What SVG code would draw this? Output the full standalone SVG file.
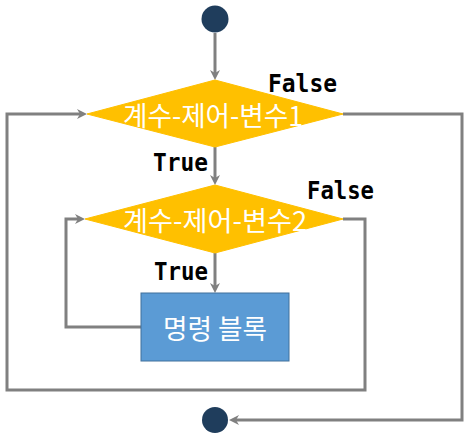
<svg xmlns="http://www.w3.org/2000/svg" width="470" height="442" viewBox="0 0 470 442">
<defs>
<style>
.conn{fill:none;stroke:#808080;stroke-width:3;stroke-linejoin:miter}
.dia{fill:#FFC000;stroke:#FFC000;stroke-width:1}
.dtext{font-family:"Noto Sans CJK KR","Noto Sans",sans-serif;font-size:27px;fill:#FFFFFF;text-anchor:middle}
.lbl{font-family:"DejaVu Sans Mono","Liberation Mono",monospace;font-weight:bold;font-size:24px;fill:#000000}
.term{fill:#1F3D5C}
.box{fill:#5B9BD5;stroke:#41719C;stroke-width:1}
</style>
<marker id="arr" markerUnits="userSpaceOnUse" markerWidth="12" markerHeight="12" refX="5" refY="5" orient="auto">
<path d="M0,0 L10,5 L0,10 L3,5 z" fill="#808080"/>
</marker>
</defs>
<g id="connectors">
<path class="conn" d="M215,33 L215,75" marker-end="url(#arr)"/>
<path class="conn" d="M215,147 L215,180" marker-end="url(#arr)"/>
<path class="conn" d="M215,253 L215,288" marker-end="url(#arr)"/>
<path class="conn" d="M141,327 L66,327 L66,219 L80,219" marker-end="url(#arr)"/>
<path class="conn" d="M343,219 L365,219 L365,390 L7,390 L7,114 L82,114" marker-end="url(#arr)"/>
<path class="conn" d="M343,114 L462,114 L462,420 L234,420" marker-end="url(#arr)"/>
</g>
<g id="start">
<circle class="term" cx="215" cy="19" r="13.5"/>
</g>
<g id="cond1">
<polygon class="dia" points="215,80 343,114 215,147 87,114"/>
<text class="dtext" x="213" y="126" textLength="180" lengthAdjust="spacingAndGlyphs">계수-제어-변수1</text>
</g>
<g id="cond2">
<polygon class="dia" points="215,185 343,219 215,253 85,219"/>
<text class="dtext" x="215" y="231" textLength="184" lengthAdjust="spacingAndGlyphs">계수-제어-변수2</text>
</g>
<g id="block">
<rect class="box" x="141" y="293" width="148" height="68"/>
<text class="dtext" x="215" y="339" textLength="104" lengthAdjust="spacingAndGlyphs">명령 블록</text>
</g>
<g id="end">
<circle class="term" cx="215" cy="420" r="13"/>
</g>
<g id="labels">
<text class="lbl" x="268" y="92" textLength="69" lengthAdjust="spacingAndGlyphs">False</text>
<text class="lbl" x="153" y="171" textLength="55" lengthAdjust="spacingAndGlyphs">True</text>
<text class="lbl" x="307" y="199" textLength="67" lengthAdjust="spacingAndGlyphs">False</text>
<text class="lbl" x="154" y="280" textLength="54" lengthAdjust="spacingAndGlyphs">True</text>
</g>
</svg>
